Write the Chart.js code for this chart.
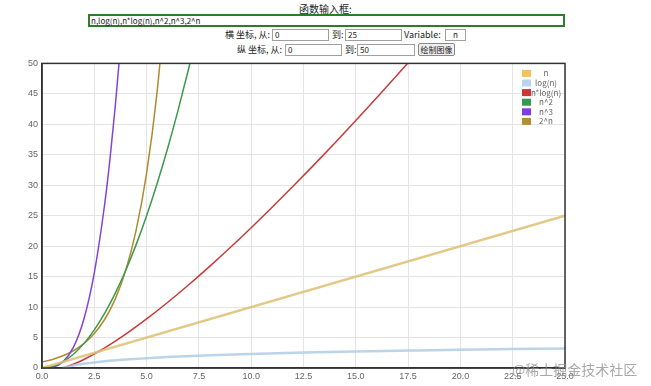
<!DOCTYPE html>
<html>
<head>
<meta charset="utf-8">
<script src="https://cdn.jsdelivr.net/npm/chart.js@4"></script>
<style>
  body { margin: 0; width: 651px; height: 386px; background: #fff; position: relative; overflow: hidden;
         font-family: "Noto Sans CJK SC", "DejaVu Sans", sans-serif; color: #222; }
  .abs { position: absolute; }
  .lbl { font-size: 9px; line-height: 12px; white-space: nowrap; }
  .box { position: absolute; box-sizing: border-box; border: 1px solid #a0a0a0; font-size: 8px;
         line-height: 10px; padding-left: 2px; height: 12px; background: #fff; }
  #wrap { position: absolute; left: 0; top: 54px; width: 651px; height: 332px; }
  #mark { position: absolute; left: 512px; top: 359px; font-size: 14px; color: rgba(140,140,140,0.75); white-space: nowrap; }
</style>
</head>
<body>
<div class="abs lbl" style="left:0;width:651px;top:3px;text-align:center;font-size:10px;">函数输入框:</div>
<div class="box" style="left:88px;top:14px;width:477px;height:13px;border:2px solid #2b7d2b;line-height:9px;padding-left:1px;">n,log(n),n*log(n),n^2,n^3,2^n</div>

<div class="abs lbl" style="left:225px;top:29px;">横 坐标, 从:</div>
<div class="box" style="left:272px;top:29px;width:57px;">0</div>
<div class="abs lbl" style="left:332px;top:29px;">到:</div>
<div class="box" style="left:345px;top:29px;width:57px;">25</div>
<div class="abs lbl" style="left:404px;top:29px;">Variable:</div>
<div class="box" style="left:445px;top:29px;width:21px;text-align:center;padding:0;">n</div>

<div class="abs lbl" style="left:237px;top:44px;">纵 坐标, 从:</div>
<div class="box" style="left:285px;top:44px;width:57px;">0</div>
<div class="abs lbl" style="left:345px;top:44px;">到:</div>
<div class="box" style="left:357px;top:44px;width:58px;">50</div>
<div class="box" style="left:418px;top:43px;width:37px;height:13px;background:#efefef;border-color:#888;border-radius:2px;text-align:center;padding:0;line-height:11px;">绘制图像</div>

<div id="wrap"><canvas id="chart"></canvas></div>
<div id="mark">@稀土掘金技术社区</div>

<script>
const nX = [0, 25];
const nY = [0, 25];

const logX = [1, 1.25, 1.5, 2, 3, 4, 5, 6, 8, 10, 12.5, 15, 17.5, 20, 22.5, 25];
const logY = [0, 0.22, 0.41, 0.69, 1.10, 1.39, 1.61, 1.79, 2.08, 2.30, 2.53, 2.71, 2.86, 3.00, 3.11, 3.22];

const nlogX = [1, 1.5, 2, 3, 4, 5, 6, 7, 8, 9, 10, 11, 12, 13, 14, 15, 16, 17, 18];
const nlogY = [0, 0.61, 1.39, 3.30, 5.55, 8.05, 10.75, 13.62, 16.64, 19.78, 23.03, 26.38, 29.82, 33.34, 36.95, 40.62, 44.36, 48.17, 52.03];

const sqX = [0, 0.5, 1, 1.5, 2, 2.5, 3, 3.5, 4, 4.5, 5, 5.5, 6, 6.5, 7, 7.5];
const sqY = [0, 0.25, 1, 2.25, 4, 6.25, 9, 12.25, 16, 20.25, 25, 30.25, 36, 42.25, 49, 56.25];

const cubeX = [0, 0.5, 1, 1.5, 2, 2.5, 3, 3.25, 3.5, 3.75, 4];
const cubeY = [0, 0.13, 1, 3.38, 8, 15.63, 27, 34.33, 42.88, 52.73, 64];

const expX = [0, 0.5, 1, 1.5, 2, 2.5, 3, 3.5, 4, 4.5, 5, 5.5, 6];
const expY = [1, 1.41, 2, 2.83, 4, 5.66, 8, 11.31, 16, 22.63, 32, 45.25, 64];

const labels = ['n', 'log(n)', 'n*log(n)', 'n^2', 'n^3', '2^n'];
const lineColors = ['rgba(222,192,115,0.85)', 'rgba(176,204,228,0.85)', '#c83a3a', '#3a9a4a', '#8442dc', '#b08a2e'];
const boxColors = ['#f2c35c', '#b9d5ee', '#cc3636', '#35994f', '#7f3ddb', '#b0902f'];
const widths = [2.5, 2.5, 1.5, 1.5, 1.5, 1.5];
const xs = [nX, logX, nlogX, sqX, cubeX, expX];
const ys = [nY, logY, nlogY, sqY, cubeY, expY];

function toPoints(x, y) {
    return x.map((v, i) => ({ x: v, y: y[i] }));
}

// legend drawn inside the plot, plus the frame round the chart area
const insideLegend = {
    id: 'insideLegend',
    afterDatasetsDraw(chart) {
        const ctx = chart.ctx;
        const a = chart.chartArea;
        ctx.save();
        ctx.strokeStyle = '#333';
        ctx.lineWidth = 1.5;
        ctx.strokeRect(a.left, a.top, a.right - a.left, a.bottom - a.top);
        ctx.font = '8px "Noto Sans CJK SC", sans-serif';
        ctx.textAlign = 'center';
        ctx.textBaseline = 'middle';
        chart.data.datasets.forEach((ds, i) => {
            const y = a.top + 10 + i * 9.6;
            ctx.fillStyle = boxColors[i];
            ctx.fillRect(a.right - 43, y - 3.5, 9, 7);
            ctx.fillStyle = '#666';
            ctx.fillText(ds.label, a.right - 19, y);
        });
        ctx.restore();
    }
};

new Chart(document.getElementById('chart'), {
    type: 'line',
    data: {
        datasets: labels.map((l, i) => ({
            label: l,
            data: toPoints(xs[i], ys[i]),
            borderColor: lineColors[i],
            borderWidth: widths[i],
            pointRadius: 0,
            cubicInterpolationMode: 'monotone',
            fill: false
        }))
    },
    options: {
        responsive: true,
        maintainAspectRatio: false,
        animation: false,
        layout: { padding: { top: 1, right: 86, left: 0, bottom: 0 } },
        plugins: { legend: { display: false }, tooltip: { enabled: false } },
        scales: {
            x: {
                type: 'linear',
                min: 0,
                max: 25,
                ticks: { stepSize: 2.5, color: '#666', font: { size: 9 }, padding: 3,
                         callback: v => v.toFixed(1) },
                grid: { color: '#e4e4e4', drawTicks: false },
                border: { color: '#333', width: 1.5 },
                afterFit: s => { s.height = 18; }
            },
            y: {
                min: 0,
                max: 50,
                ticks: { stepSize: 5, color: '#666', font: { size: 9 }, padding: 4 },
                grid: { color: '#e4e4e4', drawTicks: false },
                border: { color: '#333', width: 1.5 },
                afterFit: s => { s.width = 42; }
            }
        }
    },
    plugins: [insideLegend]
});
</script>
</body>
</html>
